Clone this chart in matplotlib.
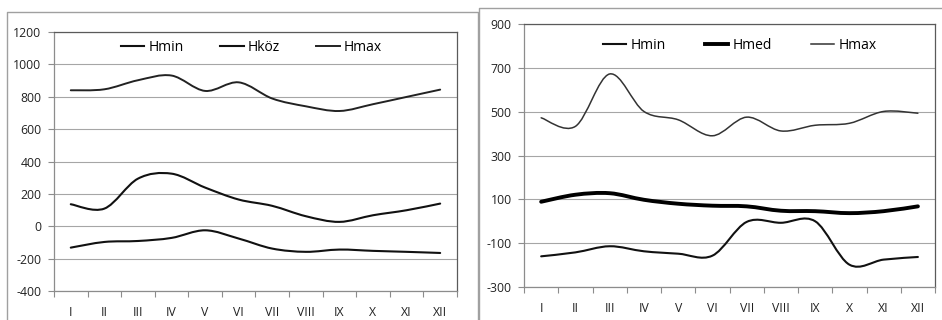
import matplotlib
matplotlib.use("Agg")
import matplotlib.pyplot as plt
from matplotlib.path import Path
from matplotlib.patches import PathPatch
from matplotlib.lines import Line2D
import numpy as np

months = ["I", "II", "III", "IV", "V", "VI", "VII", "VIII", "IX", "X", "XI", "XII"]

# Left chart
left_hmin = [-132, -97, -91, -72, -25, -76, -138, -158, -144, -152, -158, -165]
left_hkoz = [136, 109, 294, 325, 239, 165, 126, 62, 27, 68, 99, 140]
left_hmax = [840, 846, 902, 931, 836, 889, 789, 741, 712, 754, 799, 844]
left_labels = ["Hmin", "Hköz", "Hmax"]
left_yticks = [-400, -200, 0, 200, 400, 600, 800, 1000, 1200]

# Right chart
right_hmin = [-160, -142, -114, -137, -148, -157, -3, -7, 0, -198, -175, -163]
right_hmed = [89, 121, 128, 98, 80, 71, 68, 48, 46, 37, 46, 68]
right_hmax = [472, 433, 672, 501, 463, 390, 475, 412, 438, 447, 501, 493]
right_labels = ["Hmin", "Hmed", "Hmax"]
right_yticks = [-300, -100, 100, 300, 500, 700, 900]

FONT = ["Open Sans", "DejaVu Sans"]
plt.rcParams["font.family"] = FONT
plt.rcParams["axes.unicode_minus"] = False


def smooth_path(xs, ys):
    pts = np.column_stack([xs, ys]).astype(float)
    n = len(pts)
    verts = [pts[0]]
    codes = [Path.MOVETO]
    for i in range(n - 1):
        p0 = pts[i - 1] if i > 0 else pts[i]
        p1 = pts[i]
        p2 = pts[i + 1]
        p3 = pts[i + 2] if i + 2 < n else pts[i + 1]
        c1 = p1 + (p2 - p0) / 6.0
        c2 = p2 - (p3 - p1) / 6.0
        verts += [c1, c2, p2]
        codes += [Path.CURVE4] * 3
    return Path(verts, codes)


def draw_panel(ax, series, styles, labels, yticks, leg_anchor, colspacing):
    x = np.arange(len(months))
    for vals, st in zip(series, styles):
        ax.add_patch(PathPatch(smooth_path(x, vals), fill=False,
                               edgecolor=st["color"], lw=st["lw"],
                               capstyle="round", joinstyle="round", zorder=3))
    ax.set_xlim(-0.5, len(months) - 0.5)
    ax.set_ylim(yticks[0], yticks[-1])
    ax.set_yticks(yticks)
    ax.yaxis.grid(True, color="#a6a6a6", lw=0.8)
    ax.set_axisbelow(True)
    ax.set_xticks(np.arange(-0.5, len(months)), labels=[""] * (len(months) + 1))
    ax.set_xticks(x, labels=months, minor=True)
    ax.tick_params(axis="x", which="major", length=4, color="#8c8c8c", width=0.8, direction="out")
    ax.tick_params(axis="x", which="minor", length=0, pad=11, labelsize=8.8, labelcolor="#222222")
    ax.tick_params(axis="y", length=4, color="#8c8c8c", width=0.8, pad=5, labelsize=8.8, labelcolor="#222222")
    for s in ["left", "bottom"]:
        ax.spines[s].set_color("#8c8c8c")
        ax.spines[s].set_linewidth(0.9)
    for s in ["top", "right"]:
        ax.spines[s].set_color("#5a5a5a")
        ax.spines[s].set_linewidth(0.9)
    handles = [Line2D([], [], color=st["color"], lw=st["lw"]) for st in styles]
    ax.legend(handles, labels, loc="center", bbox_to_anchor=leg_anchor, ncol=3,
              frameon=False, fontsize=10, handlelength=1.7, handletextpad=0.3,
              columnspacing=colspacing)


fig = plt.figure(figsize=(9.42, 3.2), dpi=100)

ax1 = fig.add_axes([0.0573, 0.0906, 0.4278, 0.8094])
draw_panel(ax1, [left_hmin, left_hkoz, left_hmax],
           [dict(color="#111111", lw=1.5), dict(color="#111111", lw=1.5), dict(color="#222222", lw=1.4)],
           left_labels, left_yticks, (0.49, 0.94), 2.6)

ax2 = fig.add_axes([0.5563, 0.1031, 0.4363, 0.8219])
draw_panel(ax2, [right_hmin, right_hmed, right_hmax],
           [dict(color="#111111", lw=1.5), dict(color="#000000", lw=2.8), dict(color="#333333", lw=1.1)],
           right_labels, right_yticks, (0.525, 0.92), 2.8)

# Outer chart frames
fig.add_artist(Line2D([7 / 942, 7 / 942, 478 / 942, 478 / 942],
                      [0, 1 - 12 / 320, 1 - 12 / 320, 0],
                      transform=fig.transFigure, color="#a0a0a0", lw=1.0))
fig.add_artist(Line2D([479 / 942, 479 / 942, 1.0],
                      [0, 1 - 8 / 320, 1 - 8 / 320],
                      transform=fig.transFigure, color="#a0a0a0", lw=1.0))

fig.savefig("out.png", dpi=100)
